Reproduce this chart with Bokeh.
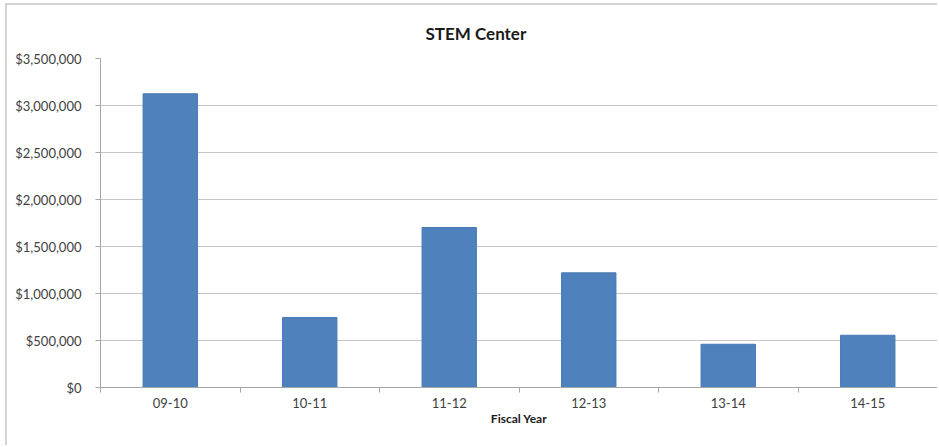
from bokeh.plotting import figure
from bokeh.models import Range1d, FixedTicker, NumeralTickFormatter, Title
from bokeh.embed import file_html
from bokeh.resources import INLINE

categories = ["09-10", "10-11", "11-12", "12-13", "13-14", "14-15"]
values = [3125000, 745000, 1702000, 1220000, 460000, 556000]
y_ticks = [0, 500000, 1000000, 1500000, 2000000, 2500000, 3000000, 3500000]

centers = [i + 0.5 for i in range(len(categories))]
bounds = list(range(len(categories) + 1))

FONT = "Lato"

p = figure(width=932, height=442, output_backend="svg", toolbar_location=None,
           x_range=Range1d(0, len(categories)), y_range=Range1d(0, 3500000),
           min_border_left=93, min_border_right=2, min_border_top=50, min_border_bottom=60,
           title=None)
p.margin = (3, 0, 0, 5)
p.styles = {"border-left": "2px solid #d4d4d4", "border-top": "2px solid #d4d4d4"}
p.background_fill_color = "white"
p.border_fill_color = "white"
p.outline_line_color = None

t = Title(text="STEM Center", align="left", offset=325, text_font=FONT,
          text_font_size="17px", text_font_style="bold", text_color="#1a1a1a",
          standoff=30)
p.add_layout(t, "above")

p.vbar(x=centers, top=values, width=0.39, fill_color="#4F81BD", line_color="#4A7AB5", line_width=1)

# x axis
xa = p.xaxis[0]
xa.ticker = FixedTicker(ticks=centers, minor_ticks=bounds)
xa.major_label_overrides = {c: lab for c, lab in zip(centers, categories)}
xa.major_tick_line_color = None
xa.major_tick_in = 0
xa.major_tick_out = 0
xa.minor_tick_line_color = "#a6a6a6"
xa.minor_tick_in = 0
xa.minor_tick_out = 5
xa.axis_line_color = "#a6a6a6"
xa.major_label_text_font = FONT
xa.major_label_text_font_size = "13px"
xa.major_label_text_color = "#404040"
xa.major_label_standoff = 5
xa.axis_label = "Fiscal Year"
xa.axis_label_text_font = FONT
xa.axis_label_text_font_size = "12px"
xa.axis_label_text_font_style = "bold"
xa.axis_label_text_color = "#1a1a1a"
xa.axis_label_standoff = 0

# y axis
ya = p.yaxis[0]
ya.ticker = FixedTicker(ticks=y_ticks)
ya.formatter = NumeralTickFormatter(format="$0,0")
ya.major_tick_line_color = "#a6a6a6"
ya.major_tick_in = 0
ya.major_tick_out = 5
ya.minor_tick_line_color = None
ya.axis_line_color = "#a6a6a6"
ya.major_label_text_font = FONT
ya.major_label_text_font_size = "13px"
ya.major_label_text_color = "#404040"
ya.major_label_standoff = 14

p.xgrid.grid_line_color = None
p.ygrid.grid_line_color = "#c4c4c4"
p.ygrid.grid_line_width = 1
p.ygrid.ticker = FixedTicker(ticks=y_ticks)

open("out.html", "w").write(file_html(p, INLINE))
